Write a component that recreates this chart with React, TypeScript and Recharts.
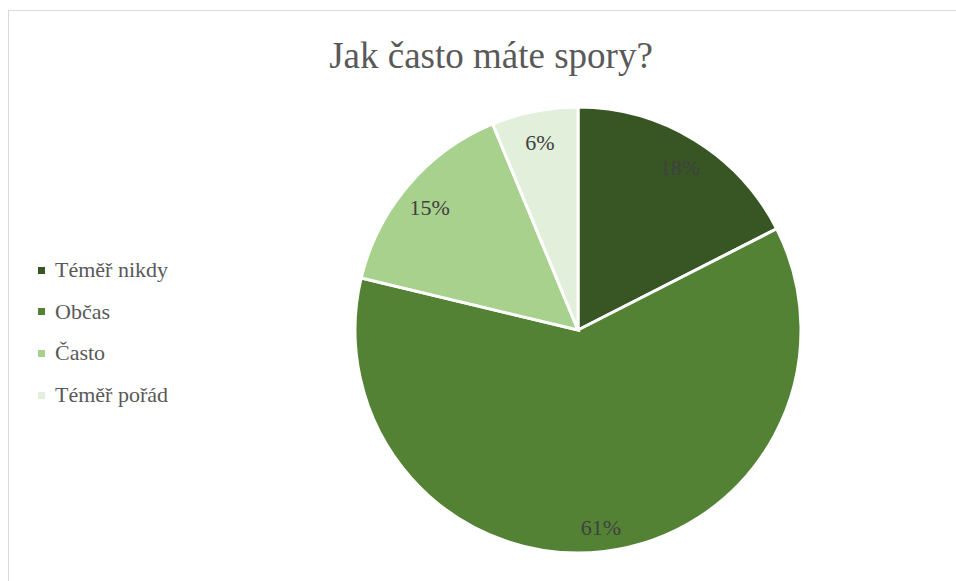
import React from "react";
import { PieChart, Pie, Cell, Legend } from "recharts";

const title = "Jak často máte spory?";
const categories = ["Téměř nikdy", "Občas", "Často", "Téměř pořád"];
const counts = [14, 49, 12, 5];
const colors = ["#375623", "#548235", "#A9D18E", "#E2EFDA"];

const data = categories.map((name, i) => ({ name, value: counts[i] }));
const total = counts.reduce((a, b) => a + b, 0);
const RADIAN = Math.PI / 180;

const renderLabel = (props: any) => {
  const { cx, cy, midAngle, outerRadius, value } = props;
  const r = outerRadius * 0.875;
  const x = cx + r * Math.cos(-midAngle * RADIAN);
  const y = cy + r * Math.sin(-midAngle * RADIAN) + 4;
  const pct = Math.round((value / total) * 100);
  return (
    <text
      x={x}
      y={y}
      textAnchor="middle"
      dominantBaseline="central"
      fill="#404040"
      style={{ fontFamily: "'Liberation Serif', 'Times New Roman', serif", fontSize: 22 }}
    >
      {pct + "%"}
    </text>
  );
};

const renderLegend = () => (
  <div style={{ position: "relative", width: 200, height: 200 }}>
    {categories.map((c, i) => (
      <div
        key={c}
        style={{
          position: "absolute",
          left: 0,
          top: i * 41.7,
          height: 24,
          display: "flex",
          alignItems: "center",
          whiteSpace: "nowrap",
        }}
      >
        <span style={{ display: "inline-block", width: 7, height: 7, background: colors[i], marginRight: 10 }} />
        <span style={{ fontFamily: "'Liberation Serif', 'Times New Roman', serif", fontSize: 22, color: "#595959", lineHeight: "24px" }}>
          {c}
        </span>
      </div>
    ))}
  </div>
);

export default function App() {
  return (
    <div style={{ position: "absolute", left: 0, top: 0, width: 956, height: 581, background: "#fff", overflow: "hidden" }}>
      <div
        style={{
          position: "absolute",
          left: 8,
          top: 10,
          width: 1000,
          height: 700,
          border: "1px solid #d9d9d9",
          boxSizing: "border-box",
        }}
      />
      <div
        style={{
          position: "absolute",
          left: 0,
          width: 982,
          top: 34,
          textAlign: "center",
          fontFamily: "'Liberation Serif', 'Times New Roman', serif",
          fontSize: 37,
          lineHeight: "44px",
          color: "#595959",
        }}
      >
        {title}
      </div>
      <div style={{ position: "absolute", left: 0, top: 0 }}>
        <PieChart width={956} height={581} margin={{ top: 0, right: 0, bottom: 0, left: 0 }}>
          <Pie
            data={data}
            dataKey="value"
            nameKey="name"
            cx={578}
            cy={330}
            outerRadius={223}
            startAngle={90}
            endAngle={-270}
            stroke="#ffffff"
            strokeWidth={3}
            label={renderLabel}
            labelLine={false}
            isAnimationActive={false}
          >
            {data.map((d, i) => (
              <Cell key={d.name} fill={colors[i]} />
            ))}
          </Pie>
          <Legend
            content={renderLegend}
            wrapperStyle={{ position: "absolute", left: 38, top: 258, width: 200, height: 200 }}
          />
        </PieChart>
      </div>
    </div>
  );
}
